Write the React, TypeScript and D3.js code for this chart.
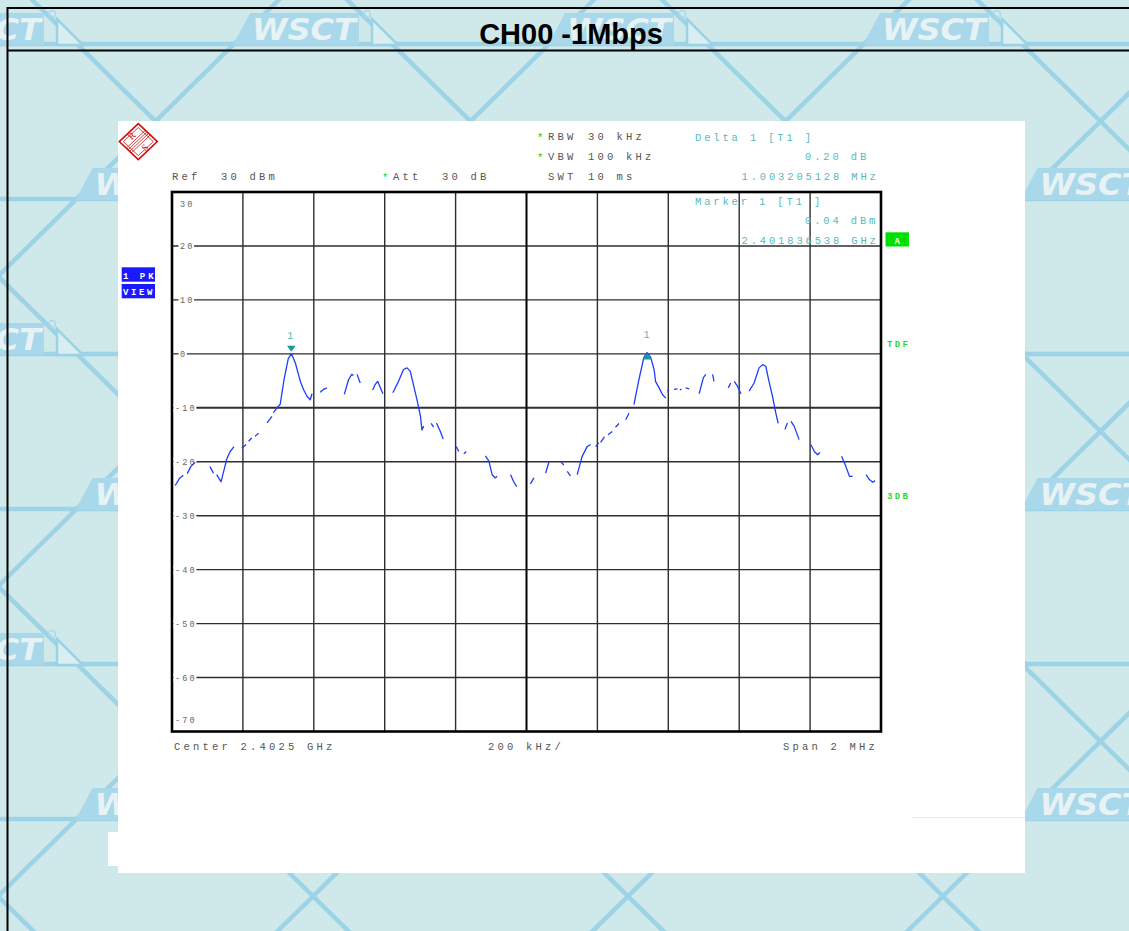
import React from "react";
import * as d3 from "d3";

// ---------- data ----------
const yTicks = [30, 20, 10, 0, -10, -20, -30, -40, -50, -60, -70];
const xGridKHz = [-1000, -800, -600, -400, -200, 0, 200, 400, 600, 800, 1000];

// trace: offset from centre frequency (kHz) and level (dBm); null = sweep gap
const traceKHz: (number | null)[] = [
  -991, -978, -968, null,
  -957, -947, -935, null,
  -893, -883, null,
  -874, -862, -860, -846, -836, -825, null,
  -803, -791, null,
  -784, -775, null,
  -766, -756, null,
  -732, -718, null,
  -714, -700, -695, -684, -672, -663, -652, -638, -629, -619, -610, -605, null,
  -582, -573, -563, null,
  -514, -502, -493, -488, null,
  -478, -469, null,
  -434, -427, -420, -405, null,
  -377, -361, -347, -337, -328, -318, -309, -299, -295, -290, null,
  -269, -262, null,
  -254, -243, -235, null,
  -198, -191, null,
  -177, -170, null,
  -116, -106, -97, -88, -83, null,
  -45, -36, -28, null,
  11, 21, null,
  54, 63, null,
  96, 105, null,
  115, 124, null,
  143, 157, 171, 181, null,
  195, 204, null,
  209, 220, null,
  230, 242, null,
  251, 261, null,
  280, 289, null,
  303, 317, 331, 340, 350, 360, 364, 374, 383, 393, null,
  397, 402, null,
  416, 426, null,
  433, 437, null,
  449, 459, null,
  487, 499, 506, null,
  525, 529, null,
  569, 576, null,
  586, 595, 605, null,
  628, 642, 656, 666, 675, 684, 694, 703, 710, null,
  729, 736, null,
  746, 755, 769, null,
  802, 812, 821, 828, null,
  889, 901, 911, 920, null,
  958, 967, 977, 983,
];
const traceDbm: (number | null)[] = [
  -24.4, -23.0, -22.5, null,
  -22.2, -20.9, -20.1, null,
  -20.9, -22.1, null,
  -22.4, -23.7, -23.3, -19.6, -18.1, -17.2, null,
  -17.5, -16.8, null,
  -16.2, -15.6, null,
  -15.3, -14.7, null,
  -12.8, -11.6, null,
  -10.9, -9.7, -9.4, -4.8, -0.9, 0.04, -1.7, -5.1, -6.6, -7.9, -8.5, -7.4, null,
  -7.1, -6.6, -6.3, null,
  -7.5, -4.8, -3.8, -4.0, null,
  -3.8, -5.4, null,
  -6.7, -5.7, -5.1, -7.4, null,
  -7.2, -5.1, -2.9, -2.6, -3.2, -6.0, -8.5, -11.6, -14.1, -13.4, null,
  -12.9, -13.6, null,
  -12.8, -14.4, -15.8, null,
  -17.2, -18.1, null,
  -18.5, -18.1, null,
  -18.9, -19.9, -22.4, -23.0, -22.7, null,
  -22.4, -23.7, -24.6, null,
  -24.1, -23.0, null,
  -22.1, -20.1, null,
  -19.9, -20.6, null,
  -21.8, -22.6, null,
  -22.4, -19.0, -17.2, -16.8, null,
  -17.2, -16.5, null,
  -16.4, -15.4, null,
  -15.0, -14.4, null,
  -13.6, -12.9, null,
  -12.2, -11.0, null,
  -9.4, -4.8, -0.7, 0.24, -0.6, -2.9, -5.1, -6.3, -7.5, -8.2, null,
  -6.9, -6.6, null,
  -6.6, -6.5, null,
  -6.7, -6.5, null,
  -6.3, -6.5, null,
  -7.4, -4.4, -3.8, null,
  -3.8, -5.1, null,
  -6.3, -5.4, null,
  -5.1, -6.0, -7.4, null,
  -6.9, -5.4, -2.6, -2.0, -2.3, -5.1, -7.9, -10.9, -12.9, null,
  -14.0, -12.8, null,
  -12.5, -13.4, -15.9, null,
  -16.8, -18.1, -18.7, -18.3, null,
  -19.0, -20.9, -22.7, -22.7, null,
  -22.4, -23.3, -23.8, -23.5,
];

const marker1KHz = -663.46;
const marker1Dbm = 0.04;
const delta1KHz = 1003.205128;
const delta1Db = 0.2;

const title = "CH00 -1Mbps";
const settingsLeft = ["RBW", "VBW", "SWT"];
const settingsRight = ["30 kHz", "100 kHz", "10 ms"];
const settingsStar = [true, true, false];
const deltaLines = ["Delta 1 [T1 ]", "0.20 dB", "1.003205128 MHz"];
const markerLines = ["Marker 1 [T1 ]", "0.04 dBm", "2.401836538 GHz"];
const bottomLabels = ["Center 2.4025 GHz", "200 kHz/", "Span 2 MHz"];
const sideFlags = ["TDF", "3DB"];

// ---------- styles ----------
const MONO = "'Liberation Mono', 'DejaVu Sans Mono', monospace";
const txt = { fontFamily: MONO, fontSize: 10.5, letterSpacing: 3.2, fill: "#555" } as const;
const TEAL = "#58b9bc";
const tealTxt = { ...txt, fill: TEAL, letterSpacing: 2.85 } as const;
const BG = "#cfe8ea";
const LINE_BLUE = "#9bd2e6";

export default function App() {
  const W = 1129;
  const H = 931;
  const x = d3.scaleLinear().domain([-1000, 1000]).range([172, 881]);
  const y = d3.scaleLinear().domain([-70, 30]).range([731.5, 192]);

  const idx = d3.range(traceKHz.length);
  const line = d3
    .line<number>()
    .defined((i) => traceKHz[i] !== null && traceDbm[i] !== null)
    .x((i) => x(traceKHz[i] as number))
    .y((i) => y(traceDbm[i] as number));
  const tracePath = line(idx) || "";

  // watermark background
  const bandYs = d3.range(6).map((k) => 45 + 155 * k);
  const m = 155 / 157.5;
  const js = d3.range(-7, 8);
  const y0 = -20;
  const y1 = H + 20;
  const logos: { lx: number; by: number }[] = [];
  bandYs.forEach((by, k) => {
    const off = k % 2 === 0 ? 233 : 75.5;
    d3.range(-1, 5).forEach((j) => logos.push({ lx: off + 315 * j, by }));
  });

  const m1x = x(marker1KHz);
  const m1y = y(marker1Dbm);
  const d1x = x(marker1KHz + delta1KHz);
  const d1y = y(marker1Dbm + delta1Db);

  // R&S logo geometry
  const lc = { x: 138.3, y: 141.6, rx: 19, ry: 18 };
  const yPitch = 7.3;

  return (
    <svg
      width={W}
      height={H}
      viewBox={`0 0 ${W} ${H}`}
      style={{ position: "absolute", left: 0, top: 0, display: "block" }}
    >
      {/* background */}
      <rect x={0} y={0} width={W} height={H} fill={BG} />
      <g stroke={LINE_BLUE} strokeWidth={4.5} opacity={0.95}>
        {js.map((j) => {
          const xa = 393 + 315 * j;
          return (
            <line
              key={"a" + j}
              x1={xa + (y0 - 45) / m}
              y1={y0}
              x2={xa + (y1 - 45) / m}
              y2={y1}
            />
          );
        })}
        {js.map((j) => {
          const xb = 548 + 315 * j;
          return (
            <line
              key={"b" + j}
              x1={xb - (y0 - 45) / m}
              y1={y0}
              x2={xb - (y1 - 45) / m}
              y2={y1}
            />
          );
        })}
        {bandYs.map((by) => (
          <line key={"h" + by} x1={0} x2={W} y1={by - 1} y2={by - 1} />
        ))}
      </g>
      <g>
        {logos.map(({ lx, by }, i) => (
          <g key={"logo" + i}>
            <polygon
              points={`${lx},${by} ${lx + 17},${by - 32} ${lx + 126},${by - 32} ${lx + 126},${by}`}
              fill="#a9d8ea"
            />
            <text
              x={lx + 19}
              y={by - 5}
              fontFamily="'DejaVu Sans', sans-serif"
              fontWeight="bold"
              fontStyle="italic"
              fontSize={30}
              fill="#e6f2f4"
              textLength={104}
              lengthAdjust="spacingAndGlyphs"
            >
              WSCT
            </text>
            <circle cx={lx + 134} cy={by - 31} r={3.5} fill="none" stroke="#a9d8ea" strokeWidth={1.3} />
            <polygon
              points={`${lx + 139},${by - 26} ${lx + 139},${by} ${lx + 165},${by}`}
              fill="#d8eef1"
              stroke={LINE_BLUE}
              strokeWidth={2.5}
            />
          </g>
        ))}
      </g>

      {/* frame */}
      <g stroke="#000" strokeWidth={2}>
        <line x1={7} x2={W} y1={8} y2={8} />
        <line x1={7} x2={W} y1={50.5} y2={50.5} />
        <line x1={7.5} x2={7.5} y1={7} y2={H} />
      </g>
      <text
        x={571}
        y={44}
        textAnchor="middle"
        fontFamily="'Liberation Sans', Arial, sans-serif"
        fontWeight="bold"
        fontSize={29}
        fill="#000"
      >
        {title}
      </text>

      {/* white instrument panel */}
      <rect x={118} y={121} width={907} height={752} fill="#fff" />
      <rect x={108} y={832} width={12} height={34} fill="#fff" />
      <line x1={912} x2={1025} y1={817.5} y2={817.5} stroke="#e4ecee" strokeWidth={1} />

      {/* R&S logo */}
      <g>
        <polygon
          points={`${lc.x - lc.rx},${lc.y} ${lc.x},${lc.y - lc.ry} ${lc.x + lc.rx},${lc.y} ${lc.x},${lc.y + lc.ry}`}
          fill="#fff"
          stroke="#cc1111"
          strokeWidth={1.6}
        />
        <polygon
          points={`${lc.x - lc.rx + 4},${lc.y} ${lc.x},${lc.y - lc.ry + 4} ${lc.x + lc.rx - 4},${lc.y} ${lc.x},${lc.y + lc.ry - 4}`}
          fill="none"
          stroke="#cc1111"
          strokeWidth={0.8}
        />
        {[-2.4, -0.8, 0.8, 2.4].map((o, i) => (
          <line
            key={"st" + i}
            x1={lc.x - lc.rx / 2 + o}
            y1={lc.y + lc.ry / 2 + o}
            x2={lc.x + lc.rx / 2 + o}
            y2={lc.y - lc.ry / 2 + o}
            stroke="#cc1111"
            strokeWidth={0.8}
          />
        ))}
        <text
          x={132}
          y={139}
          fontFamily="'Liberation Serif', serif"
          fontSize={10}
          fill="#cc1111"
          textAnchor="middle"
          transform={`rotate(-45 132 136)`}
        >
          R
        </text>
        <text
          x={145}
          y={151}
          fontFamily="'Liberation Serif', serif"
          fontSize={10}
          fill="#cc1111"
          textAnchor="middle"
          transform={`rotate(-45 145 148)`}
        >
          S
        </text>
      </g>

      {/* header */}
      {settingsLeft.map((s, i) => (
        <g key={"set" + i}>
          {settingsStar[i] && (
            <text x={537} y={141 + 19.5 * i} style={{ ...txt, fill: "#22cc22", letterSpacing: 0 }} fontSize={10}>
              *
            </text>
          )}
          <text x={548} y={139.5 + 20 * i} style={txt}>
            {s}
          </text>
          <text x={588} y={139.5 + 20 * i} style={txt}>
            {settingsRight[i]}
          </text>
        </g>
      ))}
      <text x={172} y={179.5} style={txt}>
        Ref
      </text>
      <text x={221} y={179.5} style={txt}>
        30 dBm
      </text>
      <text x={382} y={181} style={{ ...txt, fill: "#22cc22", letterSpacing: 0 }}>
        *
      </text>
      <text x={393} y={179.5} style={txt}>
        Att
      </text>
      <text x={442} y={179.5} style={txt}>
        30 dB
      </text>
      <text x={695} y={141} style={tealTxt}>
        {deltaLines[0]}
      </text>
      <text x={805} y={160} style={tealTxt}>
        {deltaLines[1]}
      </text>
      <text x={741.5} y={179.5} style={tealTxt}>
        {deltaLines[2]}
      </text>

      {/* side flags */}
      <rect x={121.7} y={267.3} width={33.3} height={14.4} fill="#1a1aff" />
      <rect x={121.7} y={284} width={33.3} height={14.3} fill="#1a1aff" />
      <text x={123} y={278.5} style={{ fontFamily: MONO, fontSize: 9, fontWeight: "bold", letterSpacing: 3, fill: "#fff" }}>
        1 PK
      </text>
      <text x={123} y={295} style={{ fontFamily: MONO, fontSize: 9, fontWeight: "bold", letterSpacing: 2.6, fill: "#fff" }}>
        VIEW
      </text>
      <rect x={885.5} y={232.3} width={23.5} height={14.2} fill="#00e000" />
      <text x={897.2} y={243.5} textAnchor="middle" style={{ fontFamily: MONO, fontSize: 9, fontWeight: "bold", fill: "#fff" }}>
        A
      </text>
      {sideFlags.map((f, i) => (
        <text
          key={f}
          x={887}
          y={[347, 499][i]}
          style={{ fontFamily: MONO, fontSize: 9, fontWeight: "bold", letterSpacing: 2.4, fill: "#22dd22" }}
        >
          {f}
        </text>
      ))}

      {/* grid */}
      <g>
        {yTicks.slice(1, -1).map((t) => (
          <line key={"gy" + t} x1={172} x2={881} y1={y(t)} y2={y(t)} stroke="#2e2e2e" strokeWidth={t === -10 ? 2 : 1.4} />
        ))}
        {xGridKHz.slice(1, -1).map((k) => (
          <line
            key={"gx" + k}
            x1={x(k)}
            x2={x(k)}
            y1={192}
            y2={731.5}
            stroke={k === 0 ? "#000" : "#2e2e2e"}
            strokeWidth={k === 0 ? 2 : 1.4}
          />
        ))}
        <rect x={172} y={192} width={709} height={539.5} fill="none" stroke="#000" strokeWidth={2.6} />
      </g>

      {/* y labels */}
      {yTicks.map((t, i) => {
        const s = t < 0 ? "-" + Math.abs(t) : String(t);
        const lx = t < 0 ? 175 : 180;
        const ty = i === 0 ? y(t) + 14.5 : i === yTicks.length - 1 ? y(t) - 8.5 : y(t) + 3.5;
        const inner = i > 0 && i < yTicks.length - 1;
        return (
          <g key={"yl" + t}>
            {inner && (
              <rect x={lx - 1.5} y={y(t) - 4} width={s.length * yPitch + 1} height={8} fill="#fff" />
            )}
            <text
              x={lx}
              y={ty}
              style={{ fontFamily: MONO, fontSize: 8.5, letterSpacing: 2.2, fill: "#666" }}
            >
              {s}
            </text>
          </g>
        );
      })}

      {/* marker info inside plot */}
      <text x={695} y={205} style={tealTxt}>
        {markerLines[0]}
      </text>
      <text x={805} y={224} style={tealTxt}>
        {markerLines[1]}
      </text>
      <text x={741.5} y={244} style={tealTxt}>
        {markerLines[2]}
      </text>

      {/* trace */}
      <path d={tracePath} fill="none" stroke="#1f3cff" strokeWidth={1.3} strokeLinejoin="round" />

      {/* markers */}
      <path d={`M${m1x - 4.3},${m1y - 8} L${m1x + 4.3},${m1y - 8} L${m1x},${m1y - 2} Z`} fill="#169a9a" />
      <text x={m1x - 1} y={m1y - 15} textAnchor="middle" style={{ fontFamily: MONO, fontSize: 10, fill: TEAL }}>
        1
      </text>
      <path d={`M${d1x},${d1y + 0.5} L${d1x + 4.3},${d1y + 7} L${d1x - 4.3},${d1y + 7} Z`} fill="#169a9a" />
      <text x={d1x - 0.5} y={d1y - 14.5} textAnchor="middle" style={{ fontFamily: MONO, fontSize: 10, fill: TEAL }}>
        1
      </text>

      {/* bottom labels */}
      <text x={174} y={750} style={txt}>
        {bottomLabels[0]}
      </text>
      <text x={488} y={750} style={txt}>
        {bottomLabels[1]}
      </text>
      <text x={783} y={750} style={txt}>
        {bottomLabels[2]}
      </text>
    </svg>
  );
}
